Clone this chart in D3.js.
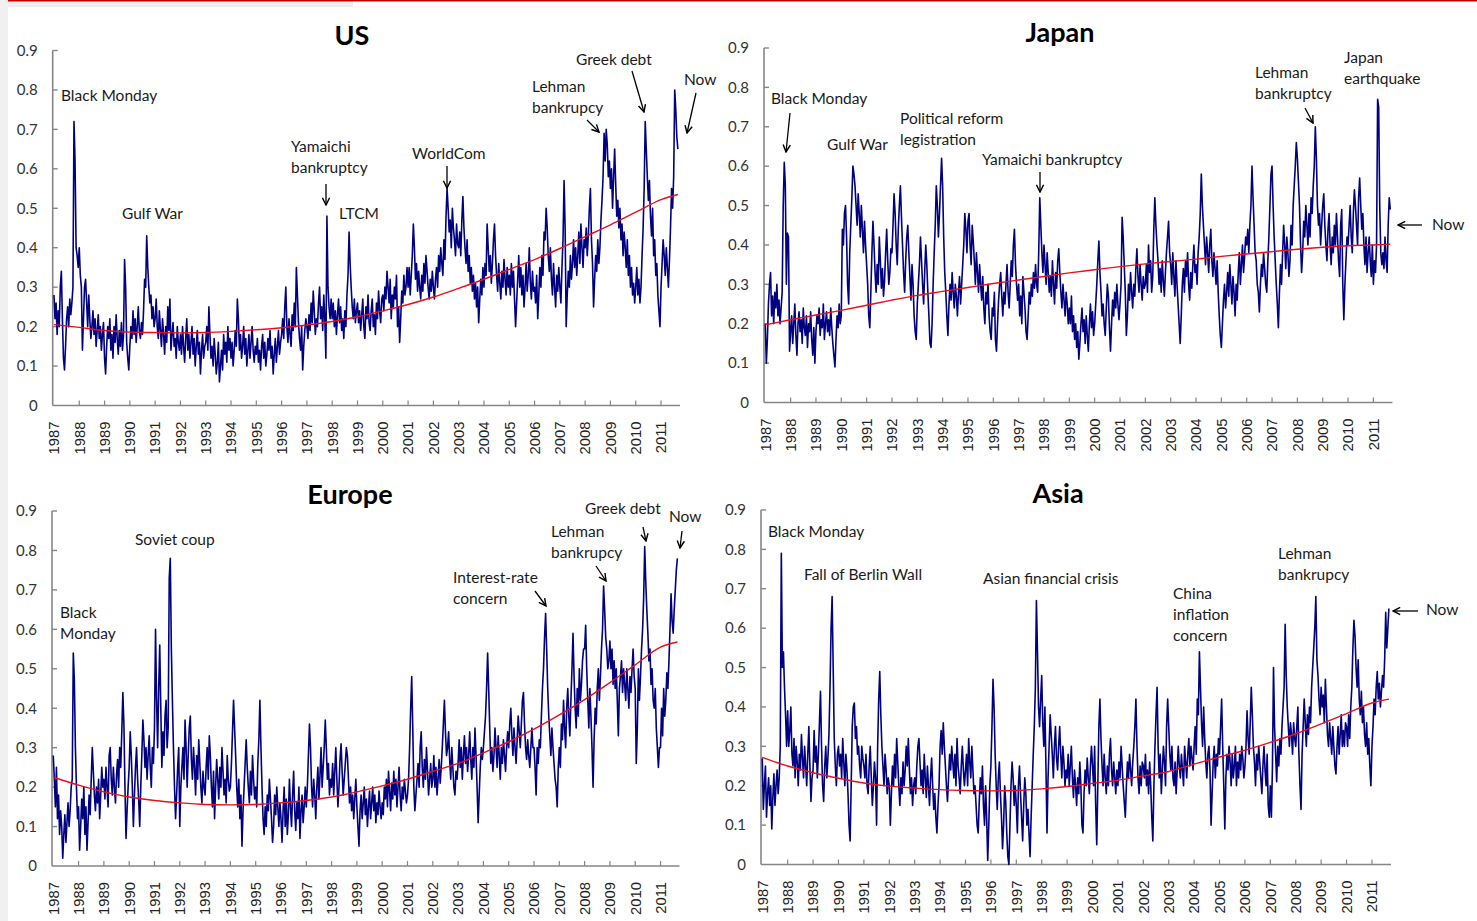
<!DOCTYPE html>
<html><head><meta charset="utf-8">
<script src="https://cdn.jsdelivr.net/npm/d3@7"></script>
<style>body{margin:0;background:#fff}svg{display:block}</style>
</head><body>
<svg id="c" width="1477" height="921"></svg>
<script>
// ---------- DATA ----------
const yearLabels = d3.range(1987, 2012);           // x tick labels
const yTickValues = [0, 0.1, 0.2, 0.3, 0.4, 0.5, 0.6, 0.7, 0.8, 0.9];
const trendYears = [1987,1988,1989,1990,1991,1992,1993,1994,1995,1996,1997,1998,1999,2000,2001,2002,2003,2004,2005,2006,2007,2008,2009,2010,2011,2011.67];
const startYear = 1987, pointsPerYear = 24;        // semi-monthly readings

const usVol = [
.28,.22,.26,.18,.24,.2,.3,.34,.22,.12,.09,.15,.22,.25,.2,.27,.23,.26,.3,.72,.62,.4,.38,.35,
.4,.33,.3,.14,.22,.3,.32,.26,.2,.28,.22,.17,.2,.24,.18,.22,.15,.19,.23,.17,.2,.14,.18,.21,
.12,.08,.15,.2,.17,.22,.14,.18,.12,.2,.16,.23,.17,.13,.19,.15,.21,.14,.18,.37,.3,.16,.12,.09,
.15,.2,.17,.24,.18,.22,.16,.2,.25,.19,.17,.21,.18,.24,.32,.3,.43,.35,.3,.26,.28,.22,.25,.2,
.22,.27,.2,.17,.24,.19,.15,.22,.18,.13,.2,.16,.25,.19,.27,.14,.18,.21,.15,.17,.12,.2,.16,.14,
.18,.13,.2,.15,.11,.17,.22,.14,.18,.12,.16,.2,.13,.17,.1,.15,.19,.13,.16,.08,.14,.18,.12,.15,
.16,.2,.14,.25,.18,.12,.15,.1,.17,.13,.08,.11,.16,.06,.1,.14,.09,.18,.13,.16,.11,.2,.14,.17,
.12,.16,.1,.14,.19,.15,.27,.22,.14,.18,.12,.15,.2,.13,.17,.1,.14,.18,.12,.16,.2,.14,.11,.15,
.13,.17,.11,.14,.09,.15,.18,.12,.16,.1,.13,.17,.14,.19,.12,.15,.08,.13,.17,.11,.15,.19,.13,.16,
.18,.22,.17,.25,.3,.2,.16,.22,.18,.15,.23,.19,.26,.2,.35,.28,.21,.17,.14,.2,.09,.15,.19,.22,
.2,.17,.23,.19,.26,.21,.29,.24,.18,.22,.2,.26,.3,.22,.25,.19,.28,.22,.12,.48,.3,.25,.22,.27,
.22,.26,.2,.24,.18,.23,.27,.21,.25,.19,.22,.17,.24,.2,.28,.33,.44,.36,.3,.25,.22,.27,.21,.24,
.26,.21,.24,.19,.23,.27,.2,.17,.25,.22,.28,.21,.19,.24,.27,.2,.23,.18,.26,.22,.29,.24,.21,.27,
.28,.24,.3,.27,.34,.3,.26,.32,.22,.28,.25,.3,.27,.33,.2,.25,.16,.22,.29,.26,.33,.28,.3,.35,
.3,.35,.28,.33,.38,.46,.4,.32,.36,.29,.34,.3,.27,.33,.29,.36,.31,.38,.34,.3,.27,.32,.29,.34,
.3,.27,.32,.35,.3,.38,.34,.4,.36,.33,.42,.37,.48,.55,.5,.44,.47,.4,.5,.45,.42,.38,.46,.41,
.4,.44,.38,.47,.53,.45,.4,.36,.42,.34,.38,.31,.35,.29,.33,.27,.31,.25,.3,.21,.27,.32,.28,.35,
.3,.36,.33,.46,.4,.34,.38,.31,.36,.42,.46,.38,.33,.29,.36,.31,.27,.34,.3,.37,.32,.28,.35,.3,
.33,.28,.36,.3,.34,.27,.2,.26,.32,.38,.3,.35,.28,.33,.25,.3,.36,.29,.33,.4,.31,.27,.34,.29,
.3,.26,.33,.22,.28,.35,.3,.38,.33,.44,.42,.5,.45,.38,.34,.4,.32,.28,.36,.3,.25,.33,.29,.35,
.3,.26,.35,.42,.57,.45,.2,.28,.34,.3,.38,.32,.36,.42,.35,.4,.33,.38,.44,.36,.46,.4,.35,.42,
.4,.45,.38,.43,.5,.55,.42,.36,.25,.32,.38,.34,.42,.36,.4,.47,.52,.58,.69,.62,.7,.66,.58,.62,
.55,.6,.5,.58,.65,.56,.48,.52,.45,.5,.42,.46,.38,.44,.4,.35,.42,.33,.38,.3,.35,.28,.31,.26,
.3,.35,.28,.32,.26,.3,.38,.45,.55,.72,.65,.58,.52,.57,.48,.43,.5,.38,.42,.33,.36,.28,.24,.2,
.3,.36,.42,.38,.33,.4,.35,.3,.37,.45,.55,.5,.58,.8,.75,.68,.65
];
const usTrend = [.205,.198,.19,.186,.185,.184,.185,.188,.192,.197,.204,.213,.225,.24,.256,.275,.297,.32,.345,.37,.398,.428,.458,.49,.522,.535];

const japanVol = [
.2,.1,.16,.25,.3,.33,.22,.27,.2,.28,.24,.3,.22,.26,.2,.24,.28,.5,.61,.55,.3,.43,.42,.13,
.18,.22,.15,.2,.25,.17,.12,.2,.23,.18,.21,.15,.24,.19,.17,.22,.14,.2,.18,.23,.16,.12,.19,.1,
.18,.22,.2,.24,.17,.21,.19,.25,.16,.2,.23,.18,.21,.17,.24,.19,.15,.12,.09,.16,.22,.19,.25,.2,
.22,.44,.4,.48,.5,.42,.3,.25,.38,.45,.52,.6,.58,.55,.5,.45,.53,.48,.42,.5,.44,.38,.46,.4,
.35,.3,.22,.19,.28,.38,.46,.4,.33,.28,.35,.3,.42,.36,.29,.34,.27,.31,.38,.44,.36,.3,.33,.39,
.38,.45,.53,.48,.4,.35,.44,.5,.55,.47,.4,.33,.28,.36,.42,.45,.38,.32,.26,.35,.3,.22,.18,.16,
.25,.3,.35,.42,.36,.3,.25,.33,.4,.35,.28,.22,.15,.14,.2,.3,.38,.45,.55,.5,.42,.48,.55,.62,
.55,.42,.33,.28,.22,.17,.25,.3,.26,.33,.28,.24,.3,.27,.22,.28,.32,.25,.3,.35,.4,.48,.44,.38,
.46,.48,.4,.35,.45,.41,.36,.3,.38,.33,.28,.35,.3,.26,.32,.24,.2,.28,.25,.3,.22,.18,.16,.24,
.22,.28,.16,.13,.2,.26,.3,.33,.27,.22,.28,.25,.3,.35,.28,.24,.3,.36,.32,.4,.44,.35,.3,.26,
.3,.22,.27,.2,.32,.28,.24,.18,.16,.22,.28,.25,.3,.27,.33,.29,.35,.3,.28,.38,.52,.45,.38,.33,
.4,.35,.3,.38,.33,.28,.32,.27,.36,.3,.25,.33,.29,.36,.39,.33,.28,.24,.3,.26,.22,.28,.25,.2,
.24,.2,.27,.18,.22,.16,.2,.14,.18,.11,.15,.2,.24,.18,.21,.15,.22,.17,.13,.2,.25,.19,.23,.17,
.2,.25,.3,.36,.41,.33,.28,.22,.25,.2,.17,.24,.3,.27,.19,.13,.2,.26,.22,.28,.24,.3,.25,.21,
.25,.3,.47,.42,.35,.28,.17,.22,.3,.26,.33,.28,.24,.3,.27,.34,.39,.32,.28,.35,.3,.26,.32,.29,
.3,.35,.28,.4,.33,.36,.28,.32,.44,.52,.45,.4,.36,.3,.34,.28,.36,.31,.27,.33,.38,.42,.46,.38,
.35,.3,.38,.32,.27,.36,.3,.25,.2,.15,.22,.3,.34,.28,.36,.32,.38,.3,.26,.33,.29,.35,.4,.33,
.35,.3,.38,.42,.48,.58,.5,.45,.4,.35,.42,.38,.33,.4,.44,.36,.32,.38,.34,.3,.36,.28,.22,.17,
.14,.2,.26,.3,.24,.28,.33,.27,.35,.3,.25,.32,.28,.22,.3,.26,.33,.38,.3,.35,.4,.33,.37,.42,
.4,.44,.38,.45,.5,.6,.52,.45,.38,.36,.3,.28,.23,.3,.35,.32,.38,.34,.3,.28,.36,.42,.5,.58,
.6,.5,.42,.36,.3,.25,.19,.28,.35,.3,.38,.45,.4,.34,.42,.38,.32,.36,.45,.4,.5,.55,.6,.66,
.62,.56,.5,.4,.33,.38,.46,.42,.5,.45,.4,.48,.42,.52,.48,.55,.6,.7,.62,.5,.45,.48,.4,.45,
.5,.53,.45,.4,.36,.44,.48,.4,.35,.42,.38,.45,.4,.48,.42,.36,.32,.45,.49,.3,.21,.3,.36,.42,
.4,.45,.5,.42,.38,.48,.54,.5,.45,.4,.52,.57,.5,.44,.48,.4,.35,.42,.33,.38,.42,.36,.32,.4,
.3,.36,.33,.4,.77,.75,.5,.38,.35,.38,.34,.42,.36,.33,.45,.52,.49
];
const japanTrend = [.197,.21,.222,.234,.247,.26,.272,.282,.292,.302,.311,.32,.329,.337,.345,.352,.358,.364,.371,.377,.383,.389,.394,.398,.4,.402];

const europeVol = [
.28,.22,.15,.25,.12,.18,.08,.14,.1,.02,.08,.13,.06,.11,.16,.1,.14,.2,.22,.54,.47,.3,.2,.12,
.15,.04,.1,.17,.12,.2,.08,.15,.04,.11,.18,.13,.22,.3,.24,.18,.14,.2,.16,.22,.12,.18,.25,.2,
.22,.17,.25,.2,.15,.28,.3,.22,.18,.25,.2,.16,.23,.27,.2,.3,.25,.34,.44,.36,.2,.07,.14,.2,
.25,.34,.28,.2,.1,.18,.25,.3,.22,.17,.1,.2,.28,.37,.32,.25,.3,.22,.28,.33,.25,.2,.3,.26,
.35,.6,.42,.3,.45,.56,.4,.25,.34,.28,.38,.42,.3,.35,.73,.78,.55,.42,.3,.2,.12,.18,.25,.3,
.1,.2,.25,.3,.22,.37,.3,.2,.28,.35,.38,.27,.22,.3,.25,.18,.28,.22,.32,.26,.2,.16,.24,.2,
.18,.25,.3,.22,.33,.28,.2,.15,.24,.12,.2,.27,.22,.17,.25,.2,.3,.24,.18,.22,.16,.28,.22,.19,
.2,.26,.34,.42,.35,.28,.2,.15,.22,.12,.18,.05,.14,.2,.26,.32,.25,.2,.16,.24,.18,.28,.22,.17,
.2,.15,.26,.32,.42,.3,.2,.12,.08,.15,.1,.18,.14,.22,.17,.12,.06,.1,.18,.13,.2,.15,.1,.16,
.12,.06,.14,.2,.1,.17,.08,.13,.22,.15,.1,.18,.24,.14,.09,.16,.12,.2,.07,.14,.18,.11,.15,.2,
.15,.2,.28,.36,.3,.2,.15,.22,.18,.12,.2,.25,.17,.23,.3,.2,.25,.3,.37,.3,.22,.26,.18,.22,
.2,.26,.18,.24,.3,.22,.15,.2,.27,.31,.24,.18,.22,.26,.3,.28,.22,.16,.2,.14,.18,.12,.17,.22,
.15,.1,.05,.14,.18,.12,.16,.2,.13,.17,.1,.15,.19,.12,.16,.2,.14,.18,.11,.16,.13,.19,.15,.12,
.16,.13,.2,.17,.22,.15,.24,.19,.14,.21,.17,.24,.18,.22,.15,.2,.25,.18,.14,.2,.17,.22,.19,.16,
.18,.22,.3,.4,.48,.35,.2,.14,.18,.22,.26,.2,.3,.34,.25,.2,.27,.22,.3,.24,.18,.22,.26,.2,
.22,.28,.2,.25,.18,.22,.27,.21,.25,.3,.36,.42,.34,.28,.3,.34,.27,.22,.3,.25,.2,.18,.24,.22,
.26,.32,.25,.3,.22,.28,.33,.26,.3,.24,.28,.34,.27,.22,.3,.25,.35,.28,.2,.11,.18,.25,.3,.27,
.3,.34,.38,.45,.54,.45,.35,.26,.3,.24,.28,.35,.3,.25,.33,.28,.22,.3,.26,.32,.28,.24,.3,.34,
.3,.36,.4,.33,.28,.35,.3,.26,.32,.38,.34,.3,.36,.42,.44,.36,.3,.27,.32,.28,.25,.3,.35,.3,
.3,.25,.18,.3,.26,.32,.3,.38,.45,.5,.58,.64,.55,.45,.38,.33,.28,.35,.3,.26,.22,.2,.15,.25,
.3,.25,.36,.32,.42,.35,.3,.4,.45,.38,.33,.42,.5,.59,.48,.4,.35,.45,.38,.5,.42,.46,.52,.55,
.55,.61,.5,.42,.35,.45,.38,.3,.2,.32,.4,.36,.45,.5,.42,.48,.55,.6,.71,.65,.58,.55,.5,.52,
.57,.5,.55,.46,.52,.45,.5,.42,.33,.45,.48,.52,.44,.5,.46,.42,.5,.45,.4,.48,.44,.5,.55,.48,
.45,.26,.35,.5,.42,.48,.55,.6,.68,.81,.72,.65,.59,.52,.55,.46,.5,.42,.4,.45,.35,.3,.25,.3,
.3,.4,.33,.45,.38,.42,.49,.45,.52,.6,.69,.62,.59,.65,.7,.75,.78
];
const europeTrend = [.225,.205,.188,.175,.166,.16,.156,.155,.156,.16,.166,.175,.188,.203,.22,.24,.26,.287,.315,.347,.383,.422,.465,.51,.555,.568];

const asiaVol = [
.27,.14,.2,.25,.12,.18,.22,.15,.2,.09,.17,.23,.15,.2,.24,.18,.22,.3,.79,.5,.54,.45,.38,.3,
.39,.3,.34,.4,.28,.25,.32,.22,.3,.26,.2,.28,.24,.33,.27,.22,.3,.25,.2,.28,.35,.25,.16,.22,
.24,.34,.26,.3,.22,.28,.36,.44,.3,.2,.16,.25,.3,.22,.27,.33,.45,.6,.68,.5,.32,.25,.2,.28,
.3,.25,.28,.22,.32,.26,.2,.28,.24,.18,.1,.06,.2,.35,.4,.41,.32,.35,.28,.3,.25,.22,.3,.27,
.25,.22,.28,.2,.18,.25,.3,.22,.15,.2,.26,.22,.1,.3,.42,.49,.38,.3,.25,.2,.28,.24,.18,.22,
.2,.1,.18,.25,.2,.28,.22,.32,.26,.2,.15,.22,.18,.26,.2,.24,.3,.25,.32,.24,.18,.22,.15,.2,
.22,.18,.25,.3,.32,.26,.2,.24,.18,.28,.22,.17,.25,.2,.15,.22,.27,.2,.14,.18,.12,.08,.15,.2,
.3,.34,.28,.36,.3,.25,.2,.16,.22,.28,.24,.3,.26,.22,.28,.2,.32,.25,.22,.18,.25,.3,.24,.2,
.24,.28,.2,.32,.26,.22,.3,.24,.18,.2,.15,.1,.08,.16,.22,.18,.25,.15,.1,.2,.12,.01,.1,.2,
.25,.35,.47,.4,.28,.2,.14,.22,.26,.18,.12,.04,.1,.2,.16,.08,.02,0,.1,.2,.26,.22,.15,.2,
.15,.08,.2,.25,.18,.12,.06,.15,.22,.18,.1,.14,.08,.02,.12,.2,.28,.35,.45,.67,.54,.4,.35,.42,
.48,.36,.3,.4,.25,.08,.22,.3,.38,.33,.28,.22,.3,.35,.27,.24,.3,.35,.28,.22,.3,.26,.2,.24,
.22,.28,.2,.25,.3,.22,.17,.24,.2,.15,.22,.18,.26,.2,.1,.08,.18,.24,.2,.27,.22,.18,.25,.3,
.25,.2,.3,.15,.05,.2,.35,.42,.32,.25,.2,.28,.22,.18,.25,.2,.28,.32,.24,.2,.26,.22,.18,.24,
.2,.26,.22,.3,.25,.2,.16,.12,.2,.26,.22,.28,.24,.2,.26,.3,.35,.42,.3,.22,.18,.25,.2,.26,
.25,.22,.28,.2,.24,.18,.26,.2,.12,.06,.2,.3,.38,.45,.3,.22,.28,.18,.24,.3,.26,.2,.35,.42,
.35,.28,.24,.3,.22,.2,.26,.18,.24,.3,.25,.22,.28,.24,.2,.3,.26,.22,.28,.32,.25,.3,.27,.24,
.3,.35,.28,.42,.38,.54,.45,.36,.3,.4,.32,.26,.22,.28,.3,.24,.1,.18,.26,.3,.22,.28,.25,.32,
.28,.35,.42,.3,.2,.09,.22,.28,.24,.3,.26,.2,.28,.22,.25,.3,.2,.26,.22,.28,.24,.3,.27,.22,
.25,.3,.39,.32,.28,.36,.45,.38,.3,.26,.2,.28,.24,.3,.26,.22,.18,.25,.3,.24,.2,.28,.15,.12,
.2,.12,.25,.5,.35,.28,.21,.3,.25,.32,.28,.35,.4,.45,.61,.48,.4,.35,.3,.36,.33,.28,.36,.32,
.3,.35,.4,.28,.2,.14,.28,.35,.42,.36,.3,.38,.33,.4,.36,.45,.5,.55,.6,.68,.52,.48,.42,.38,
.45,.4,.43,.36,.47,.4,.33,.3,.36,.32,.28,.35,.3,.25,.23,.3,.35,.28,.33,.38,.3,.34,.3,.36,
.35,.3,.38,.32,.4,.45,.55,.62,.58,.5,.45,.52,.42,.38,.44,.36,.4,.33,.3,.36,.28,.32,.25,.2,
.3,.35,.42,.38,.45,.49,.42,.46,.4,.44,.48,.45,.52,.64,.55,.6,.65
];
const asiaTrend = [.272,.25,.233,.219,.207,.199,.194,.19,.188,.187,.188,.192,.198,.206,.214,.225,.236,.255,.273,.29,.31,.332,.357,.383,.41,.42];

// annotation texts
const usNotes = [
  {lines:["Black Monday"], x:61, y:96},
  {lines:["Gulf War"], x:122, y:214},
  {lines:["Yamaichi","bankruptcy"], x:291, y:147, arrow:[326,184,326,205]},
  {lines:["LTCM"], x:339, y:214},
  {lines:["WorldCom"], x:412, y:154, arrow:[447,166,447,188]},
  {lines:["Lehman","bankrupcy"], x:532, y:87, arrow:[587,120,599,132]},
  {lines:["Greek debt"], x:576, y:60, arrow:[632,71,644,112]},
  {lines:["Now"], x:684, y:80, arrow:[696,93,687,133]}
];
const japanNotes = [
  {lines:["Black Monday"], x:771, y:99, arrow:[790,113,786,152]},
  {lines:["Gulf War"], x:827, y:145},
  {lines:["Political reform","legistration"], x:900, y:119},
  {lines:["Yamaichi  bankruptcy"], x:982, y:160, arrow:[1040,172,1040,192]},
  {lines:["Lehman","bankruptcy"], x:1255, y:73, arrow:[1305,108,1313,123]},
  {lines:["Japan","earthquake"], x:1344, y:58},
  {lines:["Now"], x:1432, y:225, arrow:[1422,225,1398,225]}
];
const europeNotes = [
  {lines:["Black","Monday"], x:60, y:613},
  {lines:["Soviet coup"], x:135, y:540},
  {lines:["Interest-rate","concern"], x:453, y:578, arrow:[535,591,546,606]},
  {lines:["Lehman","bankrupcy"], x:551, y:532, arrow:[596,566,606,581]},
  {lines:["Greek debt"], x:585, y:509, arrow:[643,527,646,541]},
  {lines:["Now"], x:669, y:517, arrow:[682,531,680,548]}
];
const asiaNotes = [
  {lines:["Black Monday"], x:768, y:532},
  {lines:["Fall of Berlin Wall"], x:804, y:575},
  {lines:["Asian financial  crisis"], x:983, y:579},
  {lines:["China","inflation","concern"], x:1173, y:594},
  {lines:["Lehman","bankrupcy"], x:1278, y:554},
  {lines:["Now"], x:1426, y:610, arrow:[1418,611,1393,611]}
];

// ---------- LAYOUT ----------
const panels = [
  {title:"US", vol:usVol, trend:usTrend, notes:usNotes, xr:[52.7,680], yr:[405.5,50.5], tx:352, ty:44.5},
  {title:"Japan", vol:japanVol, trend:japanTrend, notes:japanNotes, xr:[764,1392.4], yr:[402.5,48], tx:1060, ty:41.5},
  {title:"Europe", vol:europeVol, trend:europeTrend, notes:europeNotes, xr:[52,679.5], yr:[866,511], tx:350, ty:504},
  {title:"Asia", vol:asiaVol, trend:asiaTrend, notes:asiaNotes, xr:[761,1391], yr:[864.5,510], tx:1058, ty:502.5}
];

const svg = d3.select("#c");
svg.append("rect").attr("x",0).attr("y",0).attr("width",1477).attr("height",921).attr("fill","#fff");
svg.append("rect").attr("x",0).attr("y",0).attr("width",8).attr("height",921).attr("fill","#f0f0f0");
svg.append("rect").attr("x",8).attr("y",1).attr("width",345).attr("height",6).attr("fill","#eeeeee");
svg.append("rect").attr("x",8).attr("y",0).attr("width",1469).attr("height",1.5).attr("fill","#c00000");

const defs = svg.append("defs");
defs.append("marker").attr("id","arr").attr("viewBox","0 0 10 10").attr("refX",9).attr("refY",5)
  .attr("markerWidth",9).attr("markerHeight",9).attr("markerUnits","userSpaceOnUse").attr("orient","auto")
  .append("path").attr("d","M1,1 L9,5 L1,9").attr("fill","none").attr("stroke","#000").attr("stroke-width",1.6);

const axisColor = "#868686";
const fmt = v => v === 0 ? "0" : v.toFixed(1);

panels.forEach(p => {
  const x = d3.scaleLinear().domain([1986.95, 2011.75]).range(p.xr);
  const y = d3.scaleLinear().domain([0, 0.9]).range(p.yr);
  const g = svg.append("g");

  // title
  g.append("text").attr("x",p.tx).attr("y",p.ty).attr("text-anchor","middle")
    .attr("font-family","Lato, 'Open Sans', sans-serif").attr("font-weight",700).attr("font-size",27)
    .attr("fill","#000").text(p.title);

  // y axis
  const yAxis = d3.axisLeft(y).tickValues(yTickValues).tickSize(0).tickPadding(15).tickFormat(fmt);
  const ya = g.append("g").attr("transform",`translate(${p.xr[0]},0)`).call(yAxis);
  ya.select(".domain").remove();
  ya.selectAll("text").attr("font-family","Lato, sans-serif").attr("font-size",15).attr("fill","#333");
  g.append("line").attr("x1",p.xr[0]).attr("x2",p.xr[0]).attr("y1",y(0)).attr("y2",y(0.9))
    .attr("stroke",axisColor).attr("stroke-width",1.6);
  g.selectAll(".ytk").data(yTickValues.slice(1)).join("line")
    .attr("x1",p.xr[0]).attr("x2",p.xr[0]+5).attr("y1",d=>y(d)).attr("y2",d=>y(d))
    .attr("stroke",axisColor).attr("stroke-width",1.4);

  // x axis
  g.append("line").attr("x1",p.xr[0]).attr("x2",p.xr[1]).attr("y1",y(0)).attr("y2",y(0))
    .attr("stroke",axisColor).attr("stroke-width",1.6);
  g.selectAll(".xtk").data(yearLabels.slice(1)).join("line")
    .attr("x1",d=>x(d)).attr("x2",d=>x(d)).attr("y1",y(0)).attr("y2",y(0)-5)
    .attr("stroke",axisColor).attr("stroke-width",1.2);
  g.selectAll(".xlab").data(yearLabels).join("text")
    .attr("transform",d=>`translate(${x(d)},${y(0)+16}) rotate(-90)`)
    .attr("text-anchor","end").attr("dy","0.36em")
    .attr("font-family","'Liberation Sans', Arial, sans-serif").attr("font-size",14.8).attr("fill","#222")
    .text(d=>d);

  // data line
  const pts = p.vol.map((v,i) => ({t: startYear + i/pointsPerYear, v}));
  g.append("path").datum(pts)
    .attr("d", d3.line().x(d=>x(d.t)).y(d=>y(d.v)))
    .attr("fill","none").attr("stroke","#000080").attr("stroke-width",1.6).attr("stroke-linejoin","round");

  // trend
  const tp = p.trend.map((v,i) => ({t: trendYears[i], v}));
  g.append("path").datum(tp)
    .attr("d", d3.line().curve(d3.curveMonotoneX).x(d=>x(d.t)).y(d=>y(d.v)))
    .attr("fill","none").attr("stroke","#e8101a").attr("stroke-width",1.4);

  // notes
  p.notes.forEach(n => {
    const t = g.append("text").attr("font-family","Lato, sans-serif").attr("font-size",15.5).attr("fill","#1a1a1a");
    n.lines.forEach((l,i) => {
      t.append("tspan").attr("x",n.x).attr("y",n.y + i*21).attr("dy","0.35em").text(l);
    });
    if (n.arrow) {
      g.append("line").attr("x1",n.arrow[0]).attr("y1",n.arrow[1]).attr("x2",n.arrow[2]).attr("y2",n.arrow[3])
        .attr("stroke","#000").attr("stroke-width",1.3).attr("marker-end","url(#arr)");
    }
  });
});
</script>
</body></html>
